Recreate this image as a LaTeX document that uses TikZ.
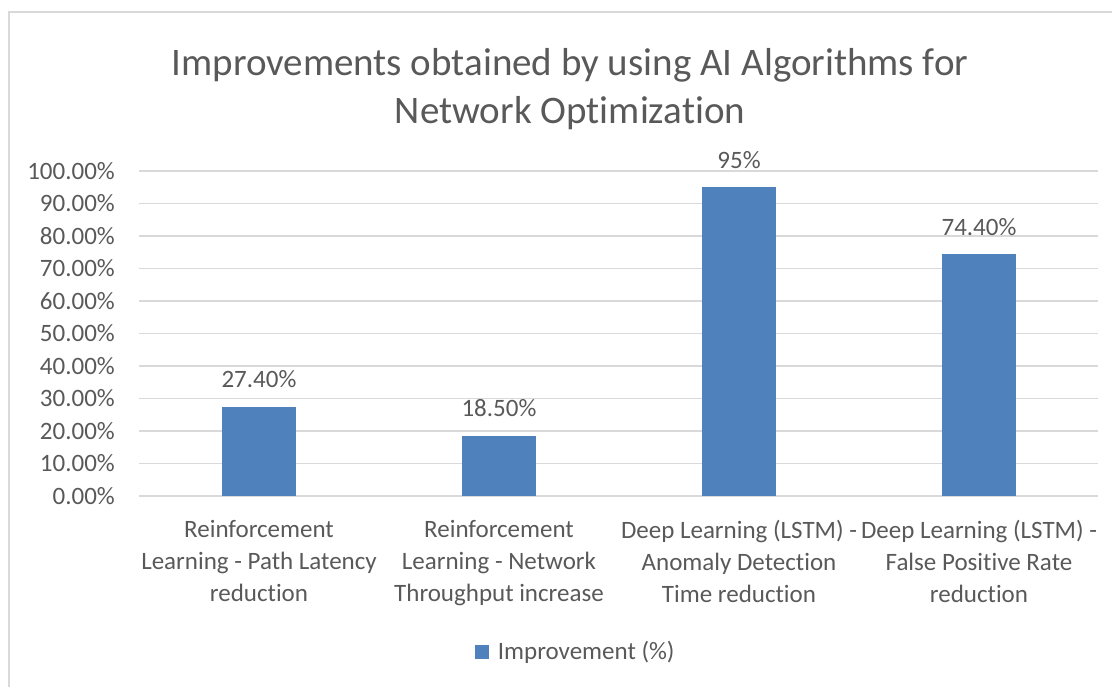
\documentclass[tikz,border=0pt]{standalone}
\usepackage{fontspec}
\setmainfont{Carlito}[Ligatures={NoCommon}]
\usetikzlibrary{positioning}
\definecolor{barblue}{HTML}{4F81BD}
\definecolor{txtgray}{HTML}{595959}
\definecolor{gridgray}{HTML}{D9D9D9}
\tikzset{
  gridline/.style={draw=gridgray, line width=1.3pt},
  ticklbl/.style={anchor=east, text=txtgray, inner sep=0pt, font=\fontsize{25}{30}\selectfont},
  catlbl/.style={anchor=north, align=center, text=txtgray, inner sep=0pt, font=\fontsize{25}{32}\selectfont},
  vallbl/.style={text=txtgray, inner sep=0pt, font=\fontsize{25}{30}\selectfont},
  barbox/.style={fill=barblue, draw=none, inner sep=0pt, minimum width=74pt, anchor=south},
}
\begin{document}
\begin{tikzpicture}[x=1pt, y=-1pt]
\useasboundingbox (0,0) rectangle (1112,687);
% chart frame (only top and left edges show)
\draw[draw=gridgray, line width=1.6pt] (9,700) -- (9,12) -- (1120,12);
% title
\node[text=txtgray, align=center, inner sep=0pt, font=\fontsize{39}{48}\selectfont] (title) at (570,89) {Improvements obtained by using AI Algorithms for\\Network Optimization};
% gridlines and tick labels
\foreach \k [evaluate=\k as \p using int(10*\k)] in {0,...,10} {
  \coordinate (g\k) at (139,496-32.5*\k);
  \draw[gridline] (g\k) -- (1098,496-32.5*\k);
  \node[ticklbl] (t\k) at (115,496-32.5*\k) {\p.00\%};
}
% bars
\node[barbox, minimum height=27.4*3.25pt] (b1) at (259,496) {};
\node[barbox, minimum height=18.5*3.25pt] (b2) at (499,496) {};
\node[barbox, minimum height=95*3.25pt] (b3) at (739,496) {};
\node[barbox, minimum height=74.4*3.25pt] (b4) at (979,496) {};
% value labels
\node[vallbl] (v1) at ([yshift=27pt]b1.north) {27.40\%};
\node[vallbl] (v2) at ([yshift=27pt]b2.north) {18.50\%};
\node[vallbl] (v3) at ([yshift=27pt]b3.north) {95\%};
\node[vallbl] (v4) at ([yshift=27pt]b4.north) {74.40\%};
% category labels
\node[catlbl] (c1) at (259,520) {Reinforcement\\Learning - Path Latency\\reduction};
\node[catlbl] (c2) at (499,520) {Reinforcement\\Learning - Network\\Throughput increase};
\node[catlbl] (c3) at (739,520) {Deep Learning (LSTM) -\\Anomaly Detection\\Time reduction};
\node[catlbl] (c4) at (979,520) {Deep Learning (LSTM) -\\False Positive Rate\\reduction};
% legend
\node[fill=barblue, inner sep=0pt, minimum size=14pt] (key) at (481.5,652) {};
\node[vallbl, anchor=west, right=9pt of key] (keytxt) {Improvement (\%)};
\end{tikzpicture}
\end{document}
